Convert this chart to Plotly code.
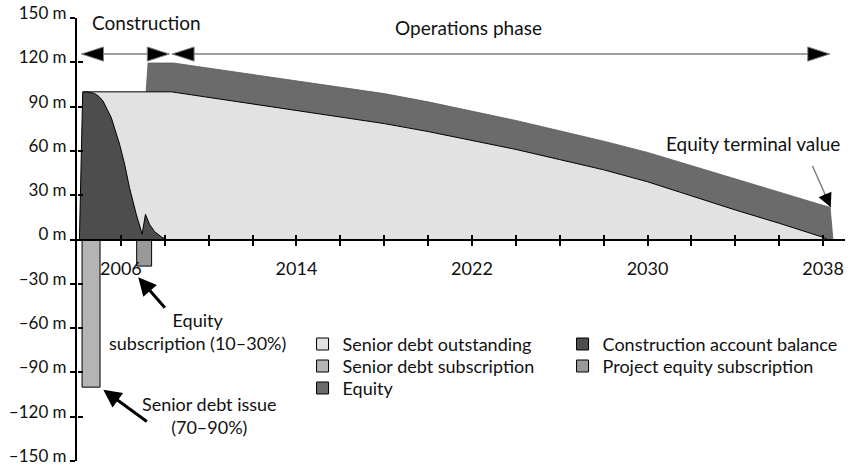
import plotly.graph_objects as go

# ---------------- data (values in millions) ----------------
debt_years = [2004.3, 2004.3, 2008.3, 2010, 2012, 2014, 2016, 2018, 2020, 2022,
              2024, 2026, 2028, 2030, 2032, 2034, 2036, 2038, 2038.2]
debt_outstanding = [0, 100, 100, 96.3, 91.7, 87.1, 82.8, 78.5, 73.1, 67.0,
                    61.0, 54.1, 47.2, 39.1, 29.3, 20.0, 11.0, 1.5, 0]

equity_years = [2007.15, 2007.24, 2008.4, 2010, 2012, 2014, 2016, 2018, 2020, 2022,
                2024, 2026, 2028, 2030, 2032, 2034, 2036, 2038, 2038.32, 2038.45]
equity_top = [100, 119.5, 119.5, 116.1, 111.8, 107.4, 103.1, 98.8, 93.2, 86.9,
              80.6, 73.6, 66.6, 59.0, 50.0, 41.0, 32.0, 23.2, 21.7, 0]

constr_years = [2004.11, 2004.26, 2004.5, 2004.8, 2005.0, 2005.18, 2005.56, 2005.94,
                2006.17, 2006.39, 2006.70, 2006.97, 2007.12, 2007.30, 2007.53,
                2007.84, 2008.07]
constr_balance = [0, 100, 99.8, 98.9, 96.8, 93.9, 82.6, 64.5,
                  51.0, 35.2, 17.1, 3.6, 17.1, 10.4, 5.4,
                  1.8, 0]

debt_sub_years = [2004.64]
debt_sub_values = [-100]
equity_sub_years = [2007.06]
equity_sub_values = [-18]

phase_start = [2004.21, 2008.34]
phase_end = [2008.2, 2038.3]

x_tick_years = [2006, 2008, 2010, 2012, 2014, 2016, 2018, 2020, 2022,
                2024, 2026, 2028, 2030, 2032, 2034, 2036, 2038]
x_tick_labels = ["2006", "", "", "", "2014", "", "", "", "2022",
                 "", "", "", "2030", "", "", "", "2038"]
y_tick_values = [-150, -120, -90, -60, -30, 0, 30, 60, 90, 120, 150]
y_tick_labels = ["–150 m", "–120 m", "–90 m", "–60 m", "–30 m", "0 m",
                 "30 m", "60 m", "90 m", "120 m", "150 m"]

# ---------------- styles ----------------
FONT = "Lato"
INK = "#000000"
TXT = "#111111"
C_DEBT = "#e2e2e2"
C_CONSTR = "#4d4d4d"
C_EQUITY = "#6b6b6b"
C_DEBTSUB = "#b4b4b4"
C_EQSUB = "#999999"
GREY_LINE = "#808080"
DEBT_BAR_W = 0.82
EQ_BAR_W = 0.68
PHASE_Y = 125.6
X_RANGE = [2004, 2039]
Y_RANGE = [-150, 150]
COL1_W = 215
COL2_W = 244

fig = go.Figure()

# equity band polygon (top boundary + debt curve underneath)
start = equity_years[0]
bx = [x for x in debt_years if x >= start]
by = [y for x, y in zip(debt_years, debt_outstanding) if x >= start]
poly_x = equity_years + bx[::-1] + [equity_years[0]]
poly_y = equity_top + by[::-1] + [equity_top[0]]
fig.add_trace(go.Scatter(x=poly_x, y=poly_y, mode="lines", fill="toself",
                         fillcolor=C_EQUITY, line=dict(color="#5a5a5a", width=0.8),
                         showlegend=False, hoverinfo="skip"))

# senior debt outstanding
fig.add_trace(go.Scatter(x=debt_years, y=debt_outstanding, mode="lines", fill="tozeroy",
                         fillcolor=C_DEBT, line=dict(color=INK, width=1),
                         showlegend=False, hoverinfo="skip"))

# construction account balance
fig.add_trace(go.Scatter(x=constr_years, y=constr_balance, mode="lines", fill="tozeroy",
                         fillcolor=C_CONSTR, line=dict(color=INK, width=1),
                         showlegend=False, hoverinfo="skip"))

# subscription bars
fig.add_trace(go.Bar(x=debt_sub_years, y=debt_sub_values, width=DEBT_BAR_W,
                     name="Senior debt subscription", legend="legend2", legendwidth=COL1_W,
                     marker=dict(color=C_DEBTSUB, line=dict(color=INK, width=1)),
                     hoverinfo="skip"))
fig.add_trace(go.Bar(x=equity_sub_years, y=equity_sub_values, width=EQ_BAR_W,
                     name="Project equity subscription", legend="legend2", legendwidth=COL2_W,
                     marker=dict(color=C_EQSUB, line=dict(color=INK, width=1)),
                     hoverinfo="skip"))

# legend-only entries for the filled areas
fig.add_trace(go.Bar(x=[None], y=[None], name="Senior debt outstanding", legend="legend",
                     legendwidth=COL1_W,
                     marker=dict(color=C_DEBT, line=dict(color=INK, width=1))))
fig.add_trace(go.Bar(x=[None], y=[None], name="Construction account balance", legend="legend",
                     legendwidth=COL2_W,
                     marker=dict(color=C_CONSTR, line=dict(color=INK, width=1))))
fig.add_trace(go.Bar(x=[None], y=[None], name="Equity", legend="legend3",
                     legendwidth=COL1_W,
                     marker=dict(color=C_EQUITY, line=dict(color=INK, width=1))))

# phase arrows
for s, e in zip(phase_start, phase_end):
    fig.add_trace(go.Scatter(x=[s, e], y=[PHASE_Y, PHASE_Y], mode="lines+markers",
                             line=dict(color=GREY_LINE, width=1.5),
                             marker=dict(symbol="arrow", angle=[-90, 90], size=23, color=INK,
                                         line=dict(color=GREY_LINE, width=1)),
                             showlegend=False, hoverinfo="skip", cliponaxis=False))

# dummy trace for the overlay axes (cross ticks)
fig.add_trace(go.Scatter(x=[], y=[], xaxis="x2", yaxis="y2", showlegend=False, hoverinfo="skip"))

annotations = [
    dict(text="Construction", x=2004.59, y=147.2, xanchor="left", yanchor="middle",
         font=dict(size=19)),
    dict(text="Operations phase", x=2021.82, y=143.8, xanchor="center", yanchor="middle",
         font=dict(size=19)),
    dict(text="Equity terminal value", x=2034.79, y=65.3, xanchor="center", yanchor="middle",
         font=dict(size=19)),
    dict(text="Equity<br>subscription (10–30%)", x=2009.47, y=-62.4, xanchor="center",
         yanchor="middle", font=dict(size=18)),
    dict(text="Senior debt issue<br>(70–90%)", x=2010.02, y=-119.2, xanchor="center",
         yanchor="middle", font=dict(size=18)),
]
for a in annotations:
    a.update(xref="x", yref="y", showarrow=False)

arrows = [
    # black thick arrows
    dict(x=2006.79, y=-25.6, ax=28, ay=32, arrowcolor=INK, arrowwidth=3, arrowhead=2,
         arrowsize=1.2),
    dict(x=2005.20, y=-101.7, ax=45, ay=33, arrowcolor=INK, arrowwidth=3, arrowhead=2,
         arrowsize=1.2),
    # terminal value: grey shaft + black head
    dict(x=2038.35, y=21.8, ax=-19, ay=-43, arrowcolor=GREY_LINE, arrowwidth=1.5, arrowhead=0),
    dict(x=2038.35, y=21.8, ax=-6.5, ay=-14.6, arrowcolor=INK, arrowwidth=1, arrowhead=2,
         arrowsize=2.8),
]
for a in arrows:
    a.update(xref="x", yref="y", showarrow=True, text="", standoff=0)

fig.update_layout(annotations=annotations + arrows)

leg_common = dict(xanchor="left", yanchor="top", orientation="h", entrywidth=COL1_W,
                  entrywidthmode="pixels", itemwidth=30, font=dict(size=18, color=TXT),
                  bgcolor="rgba(0,0,0,0)", tracegroupgap=0, itemclick=False,
                  itemdoubleclick=False)

fig.update_layout(
    width=853, height=468,
    margin=dict(l=77, r=8, t=18, b=7, autoexpand=False),
    paper_bgcolor="white", plot_bgcolor="white",
    font=dict(family=FONT, size=18, color=TXT),
    barmode="overlay",
    xaxis=dict(range=X_RANGE, anchor="free", position=0.5, showline=True, linecolor=INK,
               linewidth=2, ticks="outside", ticklen=5, tickwidth=1.5, tickcolor=INK,
               tickmode="array", tickvals=x_tick_years, ticktext=x_tick_labels,
               tickfont=dict(size=18), ticklabelstandoff=8, showgrid=False, zeroline=False,
               automargin=False),
    yaxis=dict(range=Y_RANGE, showline=True, linecolor=INK, linewidth=2, ticks="outside",
               ticklen=5, tickwidth=1.5, tickcolor=INK, tickmode="array",
               tickvals=y_tick_values, ticktext=y_tick_labels, tickfont=dict(size=17),
               ticklabelshift=-5, ticklabeloverflow="allow", showgrid=False, zeroline=False,
               automargin=False),
    xaxis2=dict(range=X_RANGE, overlaying="x", anchor="free", position=0.5, ticks="inside",
                ticklen=5, tickwidth=1.5, tickcolor=INK, tickmode="array",
                tickvals=x_tick_years, showticklabels=False, showline=False,
                showgrid=False, zeroline=False, automargin=False),
    yaxis2=dict(range=Y_RANGE, overlaying="y", anchor="free", position=0, ticks="inside",
                ticklen=5, tickwidth=1.5, tickcolor=INK, tickmode="array",
                tickvals=y_tick_values, showticklabels=False, showline=False,
                showgrid=False, zeroline=False, automargin=False),
    legend=dict(x=0.2937, y=0.3052, **leg_common),
    legend2=dict(x=0.2937, y=0.2555, **leg_common),
    legend3=dict(x=0.2937, y=0.2059, **leg_common),
    showlegend=True,
)

fig.write_html("out.html")
